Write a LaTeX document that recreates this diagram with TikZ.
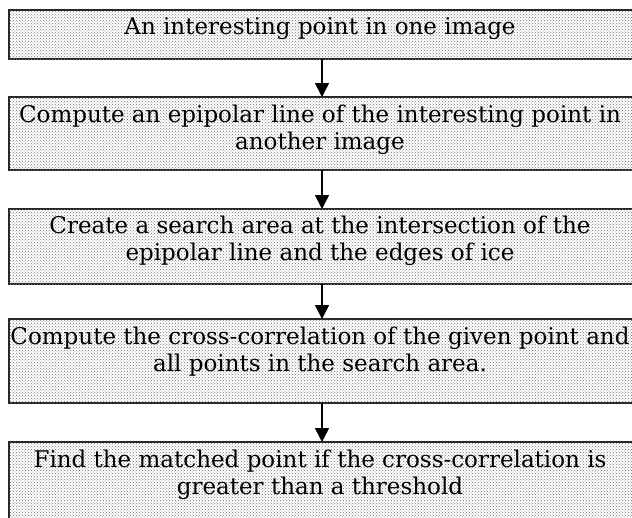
\documentclass[tikz,border=0pt]{standalone}
\usepackage{fontspec}
\setmainfont{DejaVu Serif}
\usetikzlibrary{arrows.meta,patterns}
\begin{document}
\begin{tikzpicture}[x=1pt,y=-1pt,
  stepbox/.style={draw=black!85,line width=1.6pt,fill=white,
    postaction={pattern=crosshatch dots,pattern color=black!55}},
  steptext/.style={anchor=base,align=center,inner sep=0pt,
    font=\fontsize{23}{27}\selectfont},
  flow/.style={line width=1.6pt,-{Triangle[length=14pt,width=14pt]}}]
\useasboundingbox (0,0) rectangle (632,517);
\path[stepbox] (9,10) rectangle (640,59);
\path[stepbox] (9,97) rectangle (640,170);
\path[stepbox] (9,209) rectangle (640,284);
\path[stepbox] (9,319) rectangle (640,403);
\path[stepbox] (9,442) rectangle (640,525);
\coordinate (b1s) at (322,59);
\coordinate (b2n) at (322,97);
\coordinate (b2s) at (322,170);
\coordinate (b3n) at (322,209);
\coordinate (b3s) at (322,284);
\coordinate (b4n) at (322,319);
\coordinate (b4s) at (322,403);
\coordinate (b5n) at (322,442);
\node[steptext] (t1) at (320,34) {An interesting point in one image};
\node[steptext] (t2) at (320,149) {Compute an epipolar line of the interesting point in\\another image};
\node[steptext] (t3) at (320,260) {Create a search area at the intersection of the\\epipolar line and the edges of ice};
\node[steptext] (t4) at (320,371) {Compute the cross-correlation of the given point and\\all points in the search area.};
\node[steptext] (t5) at (320,494) {Find the matched point if the cross-correlation is\\greater than a threshold};
\draw[flow] (b1s) -- (b2n);
\draw[flow] (b2s) -- (b3n);
\draw[flow] (b3s) -- (b4n);
\draw[flow] (b4s) -- (b5n);
\end{tikzpicture}
\end{document}
